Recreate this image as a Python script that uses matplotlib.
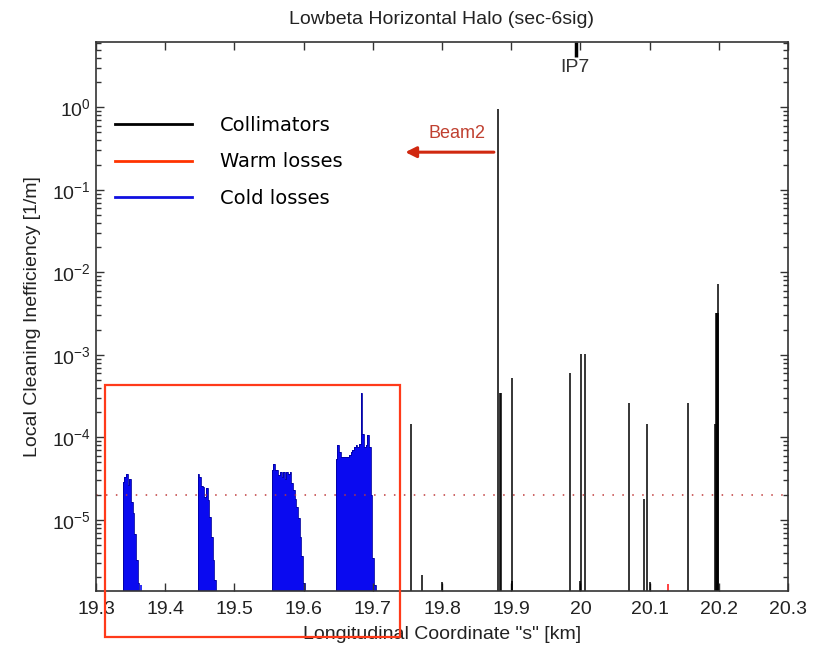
import matplotlib
matplotlib.use("Agg")
import matplotlib.pyplot as plt
from matplotlib.lines import Line2D
from matplotlib.patches import Rectangle
import matplotlib.ticker as mticker
import numpy as np

plt.rcParams['font.family'] = ['Liberation Sans', 'DejaVu Sans']

# ---------------- data ----------------
bin_width = 0.0024  # km

cold_starts = [19.3386, 19.4469, 19.5537, 19.6466]
cold_c1 = [2.89e-5, 3.32e-5, 3.55e-5, 2.63e-5, 3.11e-5, 1.65e-5, 1.2e-5, 6.8e-6, 3.25e-6, 1.7e-6]
cold_c2 = [3.55e-5, 3.32e-5, 2.56e-5, 2.5e-5, 1.9e-5, 2.45e-5, 1.75e-5, 1.09e-5, 6.2e-6, 3.25e-6, 1.86e-6]
cold_c3 = [4.0e-5, 4.8e-5, 4.0e-5, 4.05e-5, 3.5e-5, 3.8e-5, 3.3e-5, 3.8e-5, 3.15e-5, 3.8e-5,
           3.6e-5, 3.8e-5, 2.76e-5, 2.3e-5, 1.8e-5, 1.44e-5, 1.04e-5, 6.2e-6, 3.6e-6, 1.7e-6]
cold_c4 = [5.5e-5, 8.0e-5, 6.7e-5, 5.8e-5, 5.7e-5, 5.8e-5, 5.7e-5, 5.8e-5, 6.1e-5, 6.7e-5,
           7.0e-5, 7.7e-5, 8.0e-5, 7.7e-5, 8.4e-5, 3.47e-4, 1.1e-4, 7.7e-5, 8.0e-5, 1.06e-4,
           7.7e-5, 2.0e-5, 3.4e-6, 1.6e-6]
cold_spike_s = [19.3645]
cold_spike_v = [1.6e-6]

coll_s = [19.7559, 19.7717, 19.7996, 19.8810, 19.8845, 19.8855, 19.9006, 19.9012,
          19.9845, 19.9989, 20.0013, 20.0061, 20.0700, 20.0918, 20.0957, 20.1000,
          20.1559, 20.1952, 20.1960, 20.1968, 20.1976, 20.1984, 20.1994]
coll_v = [1.43e-4, 2.14e-6, 1.78e-6, 0.95, 3.4e-4, 3.4e-4, 1.8e-6, 5.3e-4,
          6.0e-4, 1.8e-6, 1.02e-3, 1.02e-3, 2.58e-4, 1.77e-5, 1.43e-4, 1.78e-6,
          2.58e-4, 1.43e-4, 3.2e-3, 3.2e-3, 3.2e-3, 3.2e-3, 7.3e-3]

warm_s = [20.1265]
warm_v = [1.65e-6]

threshold = 2e-5
xticks = [19.3, 19.4, 19.5, 19.6, 19.7, 19.8, 19.9, 20.0, 20.1, 20.2, 20.3]
xticklabels = ['19.3', '19.4', '19.5', '19.6', '19.7', '19.8', '19.9', '20', '20.1', '20.2', '20.3']
ylim = (1.37e-6, 6.24)

# ---------------- figure ----------------
fig = plt.figure(figsize=(8.23, 6.49), dpi=100)
ax = fig.add_axes([0.1166, 0.0894, 0.8409, 0.8463])
ax.set_yscale('log')

floor = 1e-8
blue = '#0a0af0'
for start, vals in zip(cold_starts, [cold_c1, cold_c2, cold_c3, cold_c4]):
    edges = start + bin_width * np.arange(len(vals) + 1)
    ax.stairs(vals, edges, baseline=floor, fill=True, color=blue)
    ax.stairs(vals, edges, baseline=floor, fill=False, color='#0000a0', lw=0.6)
ax.vlines(cold_spike_s, floor, cold_spike_v, color=blue, lw=1.2)

ax.vlines(coll_s, floor, coll_v, color='black', lw=1.1)
ax.vlines(warm_s, floor, warm_v, color='#ff2020', lw=1.2)

ax.axhline(threshold, color='#c03a3a', lw=1.1, linestyle=(0, (1, 5.5)))

ax.set_xlim(19.3, 20.3)
ax.set_ylim(*ylim)

ax.set_xticks(xticks)
ax.set_xticklabels(xticklabels)
ax.yaxis.set_major_locator(mticker.LogLocator(base=10, numticks=20))
ax.yaxis.set_minor_locator(mticker.LogLocator(base=10, subs=np.arange(2, 10), numticks=20))
ax.yaxis.set_minor_formatter(mticker.NullFormatter())
ax.tick_params(axis='both', which='both', direction='in', top=True, right=True,
               labelsize=14, colors='#333333', labelcolor='#222222')
ax.tick_params(which='major', length=6, width=1)
ax.tick_params(which='minor', length=3.5, width=1)
ax.tick_params(axis='x', pad=7)
for sp in ax.spines.values():
    sp.set_color('#333333')
    sp.set_linewidth(1.2)

ax.set_title('Lowbeta Horizontal Halo (sec-6sig)', fontsize=14, color='#222222', pad=13)
ax.set_xlabel('Longitudinal Coordinate "s" [km]', fontsize=14, color='#222222', labelpad=6)
ax.set_ylabel('Local Cleaning Inefficiency [1/m]', fontsize=14, color='#222222', labelpad=8)

# IP7 marker
ax.vlines([19.993], 4.1, ylim[1], color='black', lw=2.5)
ax.text(19.9917, 3.05, 'IP7', ha='center', va='center', fontsize=14, color='#333333')

# Beam2 arrow
ax.annotate('', xy=(19.743, 0.286), xytext=(19.879, 0.286),
            arrowprops=dict(arrowstyle='-|>', color='#d02810', lw=2.2, mutation_scale=16))
ax.text(19.8213, 0.486, 'Beam2', ha='center', va='center', fontsize=13, color='#c04030')

# legend
handles = [Line2D([], [], color='black', lw=2),
           Line2D([], [], color='#ff3300', lw=2),
           Line2D([], [], color='#1010e0', lw=2)]
labels = ['Collimators', 'Warm losses', 'Cold losses']
leg = ax.legend(handles, labels, loc='upper left', bbox_to_anchor=(0.027, 0.865),
                frameon=False, handlelength=4.0, handletextpad=1.4, labelspacing=0.9,
                borderpad=0, borderaxespad=0,
                prop={'family': ['DejaVu Sans'], 'size': 14})

# highlight box (figure coordinates)
rect = Rectangle((105 / 823, 1 - 636.7 / 649), 295 / 823, (636.7 - 385) / 649,
                 transform=fig.transFigure, fill=False, edgecolor='#ff3a1a', lw=1.6,
                 zorder=10)
fig.patches.append(rect)

fig.savefig('out.png', dpi=100)
